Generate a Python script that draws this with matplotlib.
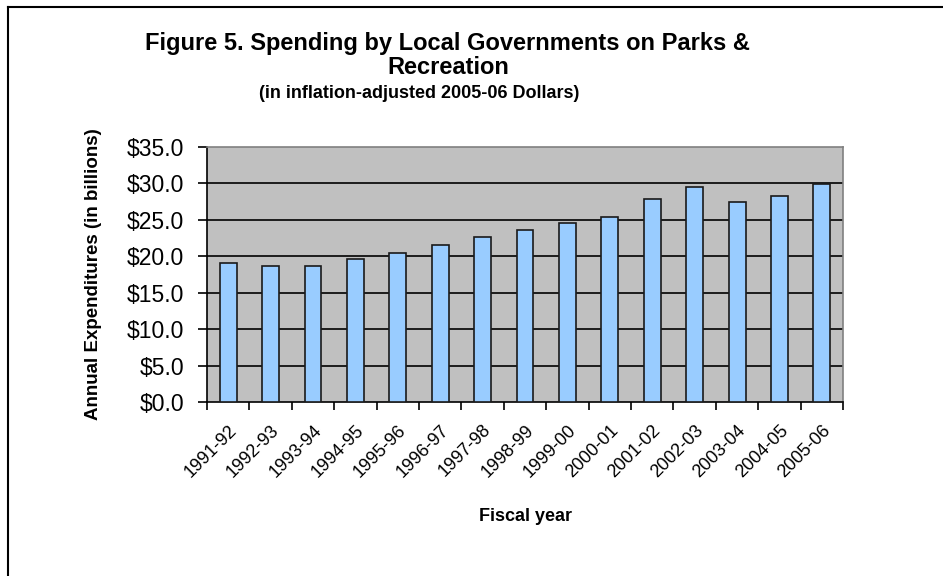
import matplotlib.pyplot as plt
from matplotlib.lines import Line2D
import numpy as np

# data
years = ["1991-92", "1992-93", "1993-94", "1994-95", "1995-96", "1996-97",
         "1997-98", "1998-99", "1999-00", "2000-01", "2001-02", "2002-03",
         "2003-04", "2004-05", "2005-06"]
spending = [19.1, 18.7, 18.7, 19.6, 20.5, 21.6, 22.7, 23.6, 24.5, 25.4,
            27.8, 29.5, 27.5, 28.2, 29.9]
y_ticks = [0, 5, 10, 15, 20, 25, 30, 35]

plt.rcParams['font.family'] = ['Liberation Sans', 'DejaVu Sans']

fig = plt.figure(figsize=(9.43, 5.76), dpi=100)
ax = fig.add_axes([0.2195, 0.302, 0.6745, 0.443])

x = np.arange(len(years))
ax.bar(x, spending, width=0.4, color="#99ccff", edgecolor="#1a1a1a",
       linewidth=1.2, zorder=3)

ax.set_facecolor("#c0c0c0")
ax.set_xlim(-0.5, len(years) - 0.5)
ax.set_ylim(0, 35)
ax.set_yticks(y_ticks)
ax.set_yticklabels([f"${v:.1f}" for v in y_ticks], fontsize=16.5)
for v in y_ticks[1:-1]:
    ax.axhline(v, color="black", linewidth=1.2, zorder=2)

# category ticks sit between the bars, labels under each bar
ax.set_xticks(np.arange(len(years) + 1) - 0.5)
ax.set_xticklabels([])
ax.set_xticks(x, minor=True)
ax.set_xticklabels(years, minor=True, rotation=45, ha="right",
                   rotation_mode="anchor", fontsize=13)
ax.tick_params(axis="x", which="major", direction="out", length=6, width=1.2)
ax.tick_params(axis="x", which="minor", length=0, pad=14)
ax.tick_params(axis="y", direction="out", length=6.5, width=1.2, pad=10)

for side in ["left", "bottom"]:
    ax.spines[side].set_color("black")
    ax.spines[side].set_linewidth(1.2)
for side in ["top", "right"]:
    ax.spines[side].set_color("#808080")
    ax.spines[side].set_linewidth(1.2)

ax.set_ylabel("Annual Expenditures (in billions)", fontsize=13.5,
              fontweight="bold", labelpad=18)
ax.set_xlabel("Fiscal year", fontsize=13, fontweight="bold", labelpad=20)

fig.text(0.475, 0.924, "Figure 5. Spending by Local Governments on Parks &",
         ha="center", va="center", fontsize=17, fontweight="bold")
fig.text(0.475, 0.882, "Recreation", ha="center", va="center",
         fontsize=17, fontweight="bold")
fig.text(0.445, 0.838, "(in inflation-adjusted 2005-06 Dollars)",
         ha="center", va="center", fontsize=13, fontweight="bold")

# outer frame (left and top edges visible in the reference)
fig.add_artist(Line2D([0.008, 0.008], [0.0, 0.988], color="black", linewidth=1.5))
fig.add_artist(Line2D([0.008, 1.0], [0.988, 0.988], color="black", linewidth=1.5))

fig.savefig("out.png", dpi=100)
